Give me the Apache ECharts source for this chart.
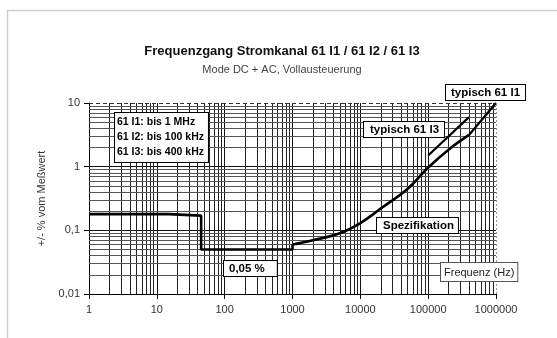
<!DOCTYPE html>
<html>
<head>
<meta charset="utf-8">
<script src="https://cdn.jsdelivr.net/npm/echarts@6/dist/echarts.min.js"></script>
<style>
  html, body { margin: 0; padding: 0; background: #fff; }
  #chart { width: 557px; height: 338px; }
</style>
</head>
<body>
<div id="chart"></div>
<script>
// Axis decades and their printed labels
const xTickValues = [1, 10, 100, 1000, 10000, 100000, 1000000];
const xTickLabels = ['1', '10', '100', '1000', '10000', '100000', '1000000'];
const yTickValues = [0.01, 0.1, 1, 10];
const yTickLabels = ['0,01', '0,1', '1', '10'];

// Specified error limit (frequency in Hz, error in %): stepped low-frequency part
const specStepFreq = [1, 15, 15, 45, 45, 1000, 1000];
const specStepVal  = [0.18, 0.18, 0.17, 0.17, 0.05, 0.05, 0.06];

// Specified error limit: rising part from 1 kHz upwards
const specCurveFreq = [1000, 2000, 5000, 10000, 20000, 50000, 100000, 200000, 400000];
const specCurveVal  = [0.06, 0.07, 0.09, 0.13, 0.22, 0.45, 0.97, 1.85, 3.15];

// Typical error of 61 I1 above 400 kHz
const typI1Freq = [400000, 1000000];
const typI1Val  = [3.15, 10];

// Typical error of 61 I3
const typI3Freq = [100000, 400000];
const typI3Val  = [1.5, 6];

const FONT = '"Liberation Sans", Arial, sans-serif';

function pairs(xs, ys) { return xs.map((x, i) => [x, ys[i]]); }
function labelFor(values, labels, v) {
  const i = values.findIndex(t => Math.abs(Math.log10(t) - Math.log10(v)) < 1e-6);
  return i >= 0 ? labels[i] : '';
}

// Logarithmic sub-divisions 2..9 inside each decade
function subDivisions(decades) {
  const out = [];
  for (let i = 0; i < decades.length - 1; i++) {
    for (let m = 2; m <= 9; m++) out.push(decades[i] * m);
  }
  return out;
}
const xMinor = subDivisions(xTickValues);
const yMinor = subDivisions(yTickValues);

const chart = echarts.init(document.getElementById('chart'), null, { renderer: 'canvas' });

const curveLine = { color: '#000', width: 2.6 };

const option = {
  animation: false,
  backgroundColor: '#fff',
  textStyle: { fontFamily: FONT },
  title: [
    {
      text: 'Frequenzgang Stromkanal 61 I1 / 61 I2 / 61 I3',
      left: 277, top: 40, textAlign: 'center',
      textStyle: { fontFamily: FONT, fontSize: 13, fontWeight: 'bold', color: '#111' }
    },
    {
      text: 'Mode DC + AC, Vollausteuerung',
      left: 277, top: 59, textAlign: 'center',
      textStyle: { fontFamily: FONT, fontSize: 11, fontWeight: 'normal', color: '#444' }
    }
  ],
  grid: { left: 89, right: 61, top: 103, bottom: 44, containLabel: false },
  xAxis: {
    type: 'log', logBase: 10, min: 1, max: 1000000,
    axisLine: { show: true, onZero: false, lineStyle: { color: '#000', width: 1 } },
    axisTick: { show: true, inside: false, length: 5, lineStyle: { color: '#000' } },
    axisLabel: {
      margin: 10, fontFamily: FONT, fontSize: 11, color: '#333',
      formatter: v => labelFor(xTickValues, xTickLabels, v)
    },
    splitLine: { show: true, showMaxLine: false, lineStyle: { color: '#111', width: 1 } },
    minorTick: { show: false },
    minorSplitLine: { show: false }
  },
  yAxis: {
    type: 'log', logBase: 10, min: 0.01, max: 10,
    name: '+/- % vom Meßwert',
    nameLocation: 'middle', nameGap: 39, nameRotate: 90,
    nameTextStyle: { fontFamily: FONT, fontSize: 11, color: '#333' },
    axisLine: { show: true, onZero: false, lineStyle: { color: '#000', width: 1 } },
    axisTick: { show: true, inside: false, length: 5, lineStyle: { color: '#000' } },
    axisLabel: {
      margin: 9, fontFamily: FONT, fontSize: 11, color: '#333',
      formatter: v => labelFor(yTickValues, yTickLabels, v)
    },
    splitLine: { show: true, showMaxLine: false, lineStyle: { color: '#111', width: 1 } },
    minorTick: { show: false },
    minorSplitLine: { show: false }
  },
  series: [
    {
      // grid sub-divisions and the plot frame
      type: 'line', data: [], z: 1, silent: true,
      markLine: {
        silent: true, symbol: 'none', animation: false,
        label: { show: false },
        emphasis: { disabled: true },
        data: [
          ...xMinor.map(v => ({ xAxis: v, lineStyle: { color: '#222', width: 1, type: 'solid' } })),
          ...yMinor.map(v => ({ yAxis: v, lineStyle: { color: '#555', width: 1, type: 'solid' } })),
          { yAxis: 10, lineStyle: { color: '#333', width: 1, type: [4, 3] } },
          { xAxis: 1000000, lineStyle: { color: '#999', width: 1, type: [2, 2] } }
        ]
      }
    },
    {
      name: 'Spezifikation', type: 'line', z: 5,
      data: pairs(specStepFreq, specStepVal),
      showSymbol: false, symbol: 'none',
      lineStyle: curveLine
    },
    {
      name: 'Spezifikation', type: 'line', z: 5,
      data: pairs(specCurveFreq, specCurveVal),
      showSymbol: false, symbol: 'none', smooth: 0.4,
      lineStyle: curveLine
    },
    {
      name: 'typisch 61 I1', type: 'line', z: 5,
      data: pairs(typI1Freq, typI1Val),
      showSymbol: false, symbol: 'none',
      lineStyle: { color: '#000', width: 2.2 }
    },
    {
      name: 'typisch 61 I3', type: 'line', z: 5,
      data: pairs(typI3Freq, typI3Val),
      showSymbol: false, symbol: 'none',
      lineStyle: { color: '#000', width: 2.2 }
    }
  ],
  graphic: [
    // outer chart frame
    {
      type: 'rect', z: 0, silent: true,
      shape: { x: 7.5, y: 10.5, width: 700, height: 500 },
      style: { fill: 'none', stroke: '#cfcfcf', lineWidth: 1.5 }
    },
    {
      type: 'text', z: 10, x: 115, y: 113,
      style: {
        text: '61 I1: bis 1 MHz\n61 I2: bis 100 kHz\n61 I3: bis 400 kHz',
        font: 'bold 10.5px ' + FONT, fill: '#000', lineHeight: 15,
        backgroundColor: '#fff', borderColor: '#000', borderWidth: 1,
        padding: [2, 4, 2, 2]
      }
    },
    {
      type: 'text', z: 10, x: 446, y: 85,
      style: {
        text: 'typisch 61 I1', font: 'bold 11.5px ' + FONT, fill: '#000',
        backgroundColor: '#fff', borderColor: '#000', borderWidth: 1,
        padding: [2, 5, 1, 5]
      }
    },
    {
      type: 'text', z: 10, x: 364, y: 122,
      style: {
        text: 'typisch 61 I3', font: 'bold 11.5px ' + FONT, fill: '#000',
        backgroundColor: '#fff', borderColor: '#000', borderWidth: 1,
        padding: [2, 5, 1, 6]
      }
    },
    {
      type: 'text', z: 10, x: 377, y: 218,
      style: {
        text: 'Spezifikation', font: 'bold 11.5px ' + FONT, fill: '#000',
        backgroundColor: '#fff', borderColor: '#000', borderWidth: 1,
        padding: [2, 4, 1, 6]
      }
    },
    {
      type: 'text', z: 10, x: 224, y: 261,
      style: {
        text: '0,05 %', font: 'bold 11.5px ' + FONT, fill: '#000',
        backgroundColor: '#fff', borderColor: '#000', borderWidth: 1,
        padding: [2, 12, 1, 5]
      }
    },
    {
      type: 'text', z: 10, x: 441, y: 263,
      style: {
        text: 'Frequenz (Hz)', font: '11px ' + FONT, fill: '#222',
        backgroundColor: '#fff', borderColor: '#555', borderWidth: 1,
        padding: [4, 3, 3, 3]
      }
    }
  ]
};

chart.setOption(option);
</script>
</body>
</html>
